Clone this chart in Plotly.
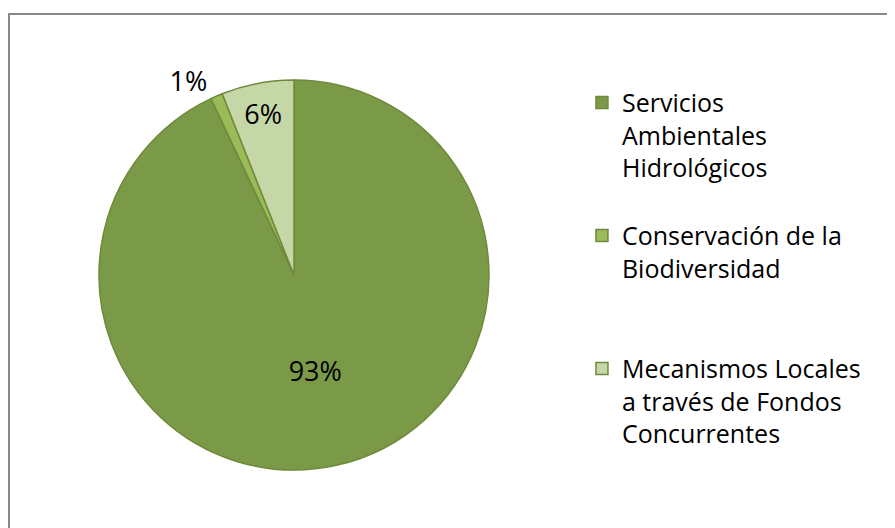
import plotly.graph_objects as go

# datos del gráfico
categorias = [
    "Servicios<br>Ambientales<br>Hidrológicos<br> ",
    "Conservación de la<br>Biodiversidad<br> <br> ",
    "Mecanismos Locales<br>a través de Fondos<br>Concurrentes",
]
porcentajes = [93, 1, 6]
colores = ["#7B9A47", "#9BBB59", "#C6D7A7"]

fig = go.Figure(go.Pie(
    labels=categorias,
    values=porcentajes,
    sort=False,
    direction="clockwise",
    rotation=0,
    textinfo="percent",
    textposition=["inside", "outside", "inside"],
    insidetextorientation="horizontal",
    insidetextfont=dict(color="black", size=27),
    outsidetextfont=dict(color="black", size=27),
    marker=dict(colors=colores, line=dict(color="#6E8A3A", width=1.5)),
    domain=dict(x=[0.1017, 0.5374], y=[0.125, 0.8636]),
    hoverinfo="label+percent",
))

fig.update_layout(
    width=895, height=528,
    margin=dict(l=0, r=0, t=0, b=0),
    font=dict(family="Open Sans", size=25, color="black"),
    paper_bgcolor="white",
    plot_bgcolor="white",
    showlegend=True,
    legend=dict(
        x=0.6413, y=0.864, xanchor="left", yanchor="top",
        valign="top", font=dict(size=25), traceorder="normal",
        bgcolor="rgba(0,0,0,0)",
    ),
    shapes=[dict(
        type="rect", xref="paper", yref="paper",
        x0=1 / 895, x1=1.05, y0=-0.05, y1=1 - 6 / 528,
        line=dict(color="#888888", width=2),
    )],
)

fig.write_html("out.html")
